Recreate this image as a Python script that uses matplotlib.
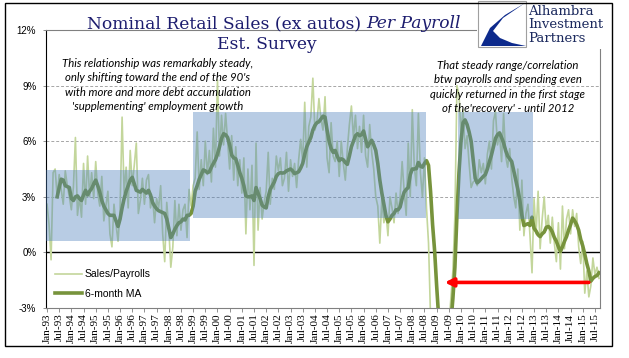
import numpy as np
import pandas as pd
import matplotlib.pyplot as plt
from matplotlib.patches import Rectangle, Polygon

# monthly data, Jan-93 .. Sep-15 (y/y %)
months = pd.date_range('1993-01-01', periods=273, freq='MS')

sales_payrolls = [
    2.6, 1.5, -0.4, 4.3, 4.5, 3.0, 4.2, 3.4, 2.6, 4.4, 3.6, 3.0,   # 1993
    2.3, 3.5, 6.2, 2.0, 3.0, 1.9, 4.8, 2.6, 5.2, 3.0, 4.3, 2.9,    # 1994
    4.9, 3.2, 2.5, 4.1, 1.7, 2.5, 3.3, 1.0, 0.3, 2.6, 1.5, 0.6,    # 1995
    2.3, 7.3, 3.2, 4.6, 2.4, 5.5, 3.6, 4.7, 5.9, 2.1, 2.8, 4.0,    # 1996
    2.6, 3.9, 4.2, 2.4, 3.0, 1.6, 2.9, 2.4, 3.6, 1.0, -0.5, 2.7,   # 1997
    1.3, -0.8, 0.3, 2.8, 0.9, 2.6, 1.2, 2.3, 2.6, 0.8, 3.4, 2.5,   # 1998
    3.6, 4.0, 6.5, 3.4, 5.0, 3.6, 6.0, 4.2, 5.5, 3.8, 6.7, 4.6,    # 1999
    9.3, 5.2, 7.4, 5.8, 7.5, 6.0, 4.5, 6.3, 3.9, 5.7, 3.6, 5.0,    # 2000
    3.2, 5.1, 1.0, 4.5, 2.3, 4.7, -0.7, 5.9, 1.2, 3.5, 1.8, 2.7,   # 2001
    3.3, 5.4, 2.6, 4.0, 3.4, 5.2, 4.4, 5.1, 3.6, 4.0, 5.4, 3.3,    # 2002
    5.0, 4.1, 4.8, 3.5, 5.0, 6.1, 4.9, 8.1, 4.6, 6.8, 7.3, 9.4,    # 2003
    6.6, 7.0, 8.3, 7.2, 6.6, 8.4, 5.1, 4.3, 7.0, 5.2, 4.9, 6.0,    # 2004
    4.1, 6.0, 4.8, 3.9, 5.6, 6.9, 7.9, 6.2, 7.4, 5.6, 6.8, 5.4,    # 2005
    7.4, 5.2, 4.6, 6.9, 5.4, 4.5, 3.0, 2.5, 0.5, 2.9, 1.6, 2.2,    # 2006
    0.9, 3.0, 2.4, 1.6, 3.2, 2.1, 3.0, 4.9, 3.3, 2.0, 5.9, 3.0,    # 2007
    7.7, 4.6, 3.6, 7.5, 4.3, 3.0, 5.1, 2.4, 0.5, -3.5, -4.5, -6.0, # 2008
    -8.5, -9.0, -9.5, -7.5, -6.0, -6.5, -4.0, -2.5, -1.0, 2.0, 9.0, 8.5,  # 2009
    6.5, 7.7, 5.6, 6.3, 4.8, 3.5, 3.8, 3.9, 3.6, 5.0, 4.3, 4.8,    # 2010
    3.7, 5.3, 6.0, 4.5, 7.1, 7.6, 5.8, 6.4, 4.9, 7.5, 5.2, 4.6,    # 2011
    5.6, 4.0, 3.0, 2.4, 4.5, 1.2, 3.9, 0.9, 2.1, 2.6, 0.9, -1.1,   # 2012
    2.9, 1.0, 3.3, 0.2, 1.8, 3.0, 1.2, 2.0, 0.5, 1.9, 0.5, -0.5,   # 2013
    1.6, -0.9, 2.5, 0.2, 1.8, 2.3, 1.0, 2.3, 1.4, 2.1, 0.3, -0.6,  # 2014
    0.6, -2.2, -1.0, -2.4, -1.8, -0.3, -1.2, -0.8, -1.4,           # 2015
]

# 6-month MA starts Jun-93
ma_6m = [
    3.0, 3.5, 3.95, 3.9, 3.6, 3.55, 3.5,                           # Jun-Dec 93
    2.9, 2.8, 3.0, 3.05, 2.9, 2.8, 3.1, 3.35, 3.1, 3.3, 3.45, 3.7,
    3.9, 3.6, 3.25, 2.8, 2.5, 2.3, 2.1, 2.0, 2.0, 2.0, 1.7, 1.4,
    1.8, 2.4, 2.9, 3.3, 3.6, 3.9, 4.05, 3.7, 3.35, 3.3, 3.25, 3.4,
    3.3, 3.2, 3.35, 3.1, 2.7, 2.5, 2.35, 2.25, 2.2, 2.15, 2.1, 1.8,
    1.3, 0.8, 1.0, 1.25, 1.45, 1.6, 1.65, 1.8, 1.75, 2.0, 2.0, 2.1,
    2.5, 3.3, 3.6, 3.95, 4.2, 4.45, 4.4, 4.3, 4.35, 4.6, 4.8, 5.0,
    5.3, 5.7, 6.15, 6.4, 6.35, 6.2, 5.8, 5.25, 5.1, 5.05, 4.7, 4.3,
    4.0, 3.6, 3.05, 3.0, 3.0, 3.05, 2.8, 3.5, 3.2, 2.9, 2.55, 2.45,
    2.4, 3.0, 3.4, 3.6, 3.8, 4.1, 4.25, 4.3, 4.28, 4.3, 4.4, 4.45,
    4.5, 4.4, 4.25, 4.3, 4.35, 4.55, 4.8, 5.3, 5.7, 5.95, 6.2, 6.6,
    6.85, 7.0, 7.05, 7.2, 7.35, 7.3, 6.6, 6.0, 5.6, 5.4, 5.5, 5.2,
    4.95, 5.05, 5.0, 4.85, 4.75, 5.2, 5.7, 6.0, 6.3, 6.4, 6.3, 6.35,
    6.55, 6.1, 5.7, 5.9, 6.05, 5.8, 5.5, 4.8, 3.9, 3.2, 2.6, 2.0,
    1.65, 1.8, 2.0, 2.1, 2.3, 2.3, 2.45, 2.9, 3.25, 3.4, 3.5, 4.2,
    4.5, 4.5, 4.52, 4.85, 4.65, 4.6, 4.8, 4.95, 4.7, 3.3, 1.5, 0.1,
    -1.8, -3.5, -5.5, -7.0, -7.5, -7.0, -5.5, -3.8, -2.5, -0.8, 2.0, 4.3,
    6.0, 7.0, 7.15, 6.9, 6.5, 6.0, 5.0, 4.0, 3.75, 3.85, 3.98, 4.1,
    4.2, 4.5, 4.9, 5.25, 5.7, 6.15, 6.35, 6.45, 6.2, 5.9, 5.5, 5.2,
    5.05, 4.9, 4.4, 3.9, 3.4, 2.8, 2.0, 1.45, 1.5, 1.55, 1.45, 1.9,
    1.3, 1.15, 0.95, 0.85, 1.0, 1.1, 1.35, 1.4, 1.3, 1.1, 0.8, 0.6,
    0.3, 0.05, 0.3, 0.6, 0.85, 1.2, 1.5, 1.85, 1.7, 1.5, 1.2, 0.7,
    0.35, -0.1, -0.6, -1.0, -1.55, -1.4, -1.3, -1.25, -1.1,
]
ma_first = 5

# shaded "steady range" boxes: start month, end month, low %, high %
box_start = [-0.5, 72.1, 202.6]
box_end = [70.4, 187.0, 239.3]
box_low = [0.6, 1.85, 1.8]
box_high = [4.45, 7.55, 7.55]

# red arrow: from mid-2015 back to 2009 level
arrow_from = 267
arrow_to = 196
arrow_level = -1.62

x = np.arange(len(sales_payrolls))
x_ma = np.arange(ma_first, ma_first + len(ma_6m))
tick_pos = np.arange(0, len(months), 6)
tick_labels = [months[i].strftime('%b-%y') for i in tick_pos]

W, H = 629, 358
fig = plt.figure(figsize=(W / 100, H / 100), dpi=100)
ax = fig.add_axes([46 / W, 1 - 308 / H, 554 / W, 278 / H])

def fx(px):
    return px / W

def fy(py):
    return 1 - py / H

ax.plot(x, sales_payrolls, color='#c3d69b', lw=1.2, label='Sales/Payrolls', zorder=2)
ax.plot(x_ma, ma_6m, color='#77933c', lw=2.6, label='6-month MA', zorder=3)

for s, e, lo, hi in zip(box_start, box_end, box_low, box_high):
    ax.add_patch(Rectangle((s, lo), e - s, hi - lo, facecolor='#4f81bd',
                           alpha=0.4, edgecolor='none', zorder=4))

ax.annotate('', xy=(arrow_to, arrow_level), xytext=(arrow_from, arrow_level),
            arrowprops=dict(arrowstyle='-|>,head_length=0.5,head_width=0.25',
                            color='#ff0000', lw=2.6, shrinkA=0, shrinkB=0),
            zorder=6)

ax.set_xlim(-0.5, 272.5)
ax.set_ylim(-3, 12)
ax.set_yticks([-3, 0, 3, 6, 9, 12])
ax.set_yticklabels(['-3%', '0%', '3%', '6%', '9%', '12%'],
                   fontsize=7, family='Liberation Sans')
for v in [3, 6, 9]:
    ax.axhline(v, color='#a6a6a6', lw=0.7, ls=(0, (3, 2)), zorder=1)
ax.axhline(0, color='black', lw=1.0, zorder=1)

ax.set_xticks(tick_pos)
ax.set_xticklabels(tick_labels, rotation=90, fontsize=8, family='Liberation Serif')
ax.tick_params(axis='x', length=3, width=0.6, pad=1, color='#808080')
ax.tick_params(axis='y', length=2, width=0.6, pad=5, color='#808080')

ax.spines['left'].set_color('black')
ax.spines['bottom'].set_color('#808080')
ax.spines['top'].set_color('#808080')
ax.spines['right'].set_color('#808080')
for sp in ax.spines.values():
    sp.set_linewidth(0.8)

leg = ax.legend(loc='lower left', bbox_to_anchor=(0.0, 0.0), frameon=False,
                prop={'family': 'Liberation Sans', 'size': 7.5},
                handlelength=2.6, handletextpad=0.2, labelspacing=0.9)

# annotations
left_note = ("This relationship was remarkably steady,\n"
             "only shifting toward the end of the 90's\n"
             "with more and more debt accumulation\n"
             "'supplementing' employment growth")
right_note = ("That steady range/correlation\n"
              "btw payrolls and spending even\n"
              "quickly returned in the first stage\n"
              "of the'recovery' - until 2012")
fig.text(fx(158), fy(85), left_note, ha='center', va='center', style='italic',
         family='Lato', fontsize=8.2, linespacing=1.4, zorder=7)
fig.text(fx(508), fy(87), right_note, ha='center', va='center', style='italic',
         family='Lato', fontsize=8.2, linespacing=1.4, zorder=7)

# title
title_color = '#1c1c6e'
t1 = fig.text(fx(87), fy(28), 'Nominal Retail Sales (ex autos) ', ha='left',
              va='baseline', family='DejaVu Serif', fontsize=12.3,
              color=title_color)
ax.annotate('Per Payroll', xy=(1, 0), xycoords=t1, ha='left', va='bottom',
            family='DejaVu Serif', fontsize=12.3, style='italic',
            color=title_color, annotation_clip=False)
fig.text(fx(267), fy(49), 'Est. Survey', ha='center', va='baseline',
         family='DejaVu Serif', fontsize=12.3, color=title_color)

# logo block (covers top-right corner of the plot frame)
fig.patches.append(Rectangle((fx(477), fy(49)), fx(612) - fx(477), fy(0) - fy(49),
                             transform=fig.transFigure, facecolor='white',
                             edgecolor='none', zorder=8))
fig.patches.append(Rectangle((fx(478), fy(47)), fx(48), fy(1) - fy(47),
                             transform=fig.transFigure, facecolor='white',
                             edgecolor='#a0a0a0', lw=0.8, zorder=9))
swoosh = [(525, 3), (505, 15), (490, 28), (481, 46), (526, 46),
          (512, 43), (500, 38), (493, 31), (503, 18)]
fig.patches.append(Polygon([(fx(a), fy(b)) for a, b in swoosh], closed=True,
                           transform=fig.transFigure, facecolor='#0d2a8c',
                           edgecolor='none', zorder=10))
fig.text(fx(528), fy(5), 'Alhambra\nInvestment\nPartners', ha='left', va='top',
         family='DejaVu Serif', fontsize=9.5, linespacing=1.05,
         color='#1c2a5e', zorder=11)

# outer frame
fig.patches.append(Rectangle((fx(5), fy(346)), fx(607), fy(3) - fy(346),
                             transform=fig.transFigure, facecolor='none',
                             edgecolor='black', lw=1.0, zorder=12))

fig.savefig('out.png', dpi=100)
